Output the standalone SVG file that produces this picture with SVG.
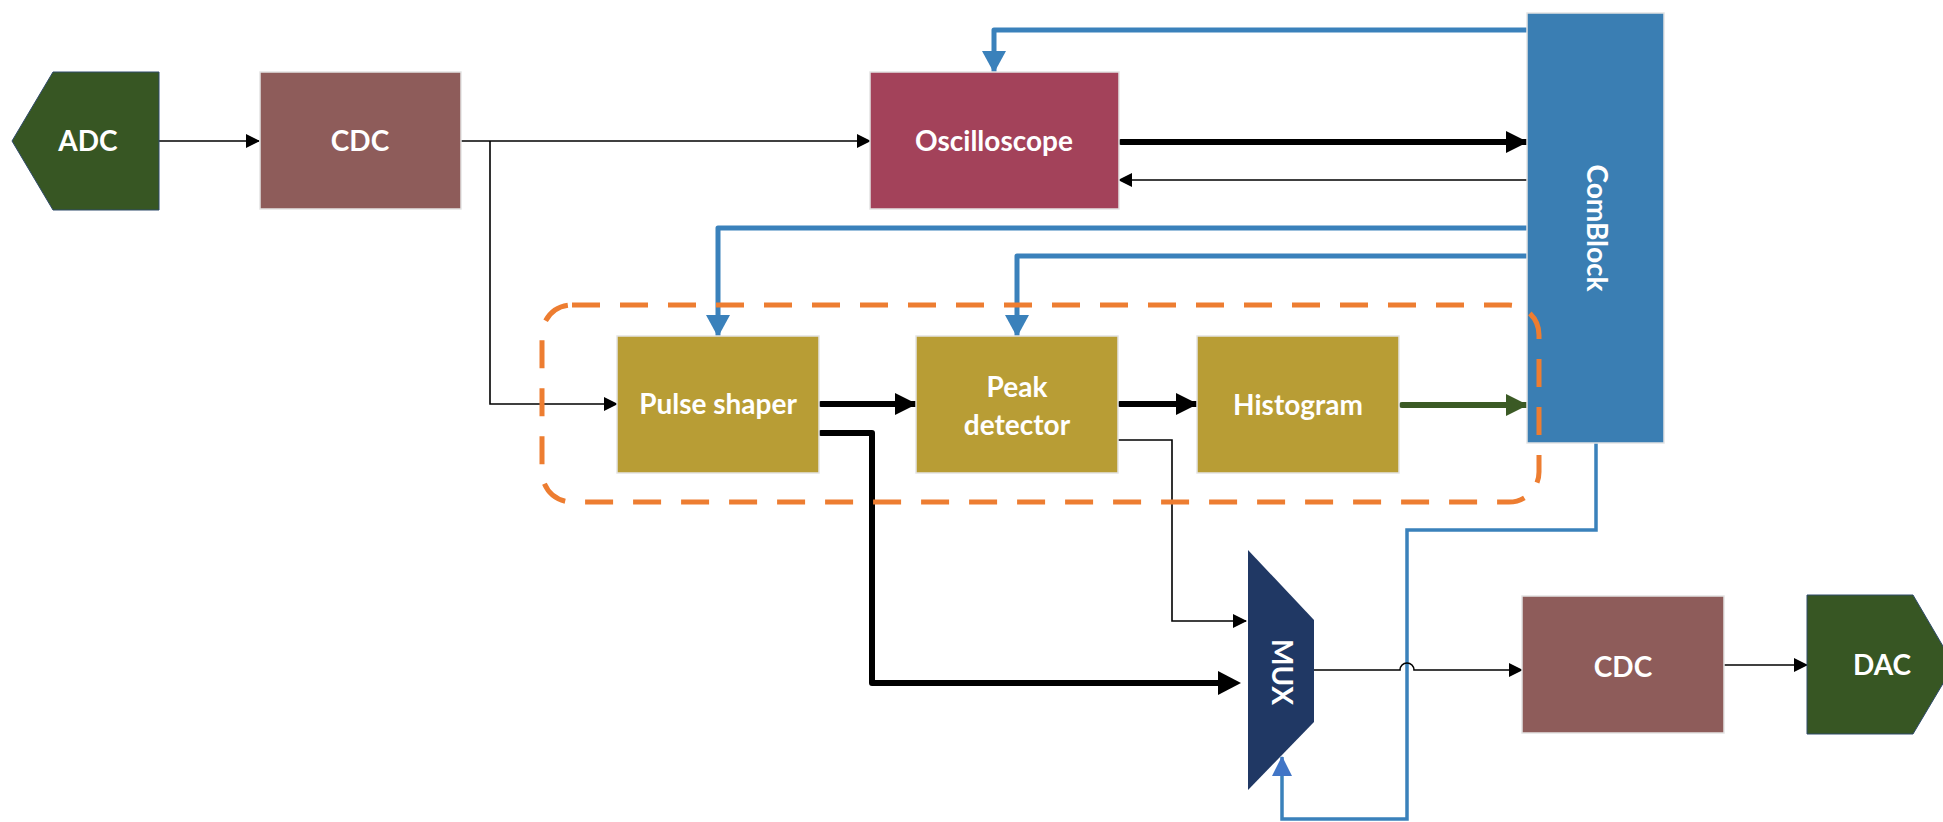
<svg xmlns="http://www.w3.org/2000/svg" width="1943" height="822" viewBox="0 0 1943 822">
<style>
  .lbl { font-family: Lato, "Open Sans", "Liberation Sans", sans-serif; font-weight: bold; font-size: 28px; fill: #ffffff; text-anchor: middle; }
  .box { stroke: #e4e4e4; stroke-width: 1.5; }
  .thin { fill: none; stroke: #000; stroke-width: 1.6; }
  .thick { fill: none; stroke: #000; stroke-width: 6; stroke-linecap: round; stroke-linejoin: round; }
  .blue { fill: none; stroke: #3a81bb; stroke-width: 5; stroke-linejoin: round; }
  .blue2 { fill: none; stroke: #3a81bb; stroke-width: 3.5; }
  .green { fill: none; stroke: #3b5a25; stroke-width: 6; stroke-linecap: round; }
</style>
<defs>
  <marker id="aThin" markerUnits="userSpaceOnUse" markerWidth="14" markerHeight="14" refX="13" refY="7" orient="auto">
    <path d="M0,0 L14,7 L0,14 z" fill="#000"/>
  </marker>
  <marker id="aThick" markerUnits="userSpaceOnUse" markerWidth="22" markerHeight="22" refX="21" refY="11" orient="auto">
    <path d="M0,0 L22,11 L0,22 z" fill="#000"/>
  </marker>
  <marker id="aGreen" markerUnits="userSpaceOnUse" markerWidth="22" markerHeight="22" refX="21" refY="11" orient="auto">
    <path d="M0,0 L22,11 L0,22 z" fill="#3b5a25"/>
  </marker>
  <marker id="aBlue" markerUnits="userSpaceOnUse" markerWidth="22" markerHeight="24" refX="21" refY="12" orient="auto">
    <path d="M0,0 L22,12 L0,24 z" fill="#3a81bb"/>
  </marker>
  <marker id="aBlue2" markerUnits="userSpaceOnUse" markerWidth="20" markerHeight="20" refX="19" refY="10" orient="auto">
    <path d="M0,0 L20,10 L0,20 z" fill="#4175c6"/>
  </marker>
</defs>
<rect width="1943" height="822" fill="#ffffff"/>

<g id="connectors">
  <path class="thin" d="M159,141 H259" marker-end="url(#aThin)"/>
  <path class="thin" d="M461,141 H870" marker-end="url(#aThin)"/>
  <path class="thin" d="M490,141 V404 H617" marker-end="url(#aThin)"/>
  <path class="thick" d="M1121,142 H1527" marker-end="url(#aThick)"/>
  <path class="thin" d="M1527,180 H1119" marker-end="url(#aThin)"/>
  <path class="blue" d="M1527,30 H994 V72" marker-end="url(#aBlue)"/>
  <path class="blue" d="M1527,228 H718 V336" marker-end="url(#aBlue)"/>
  <path class="blue" d="M1527,256 H1017 V336" marker-end="url(#aBlue)"/>
  <path class="thick" d="M821,404 H916" marker-end="url(#aThick)"/>
  <path class="thick" d="M1120,404 H1197" marker-end="url(#aThick)"/>
  <path class="green" d="M1402,405 H1527" marker-end="url(#aGreen)"/>
  <path class="thick" d="M821,433 H872 V683 H1222"/>
  <polygon points="1218,671 1241,683 1218,695" fill="#000"/>
  <path class="thin" d="M1118,440 H1172 V621 H1246" marker-end="url(#aThin)"/>
  <path class="blue2" d="M1596,443 V530 H1407 V819 H1282 V757" marker-end="url(#aBlue2)"/>
  <path class="thin" d="M1314,670 H1400 A7,7 0 0 1 1414,670 H1522" marker-end="url(#aThin)"/>
  <path class="thin" d="M1724,665 H1807" marker-end="url(#aThin)"/>
</g>

<g id="adc">
  <polygon points="12,141 53,72 159,72 159,210 53,210" fill="#375623" stroke="#2f4a6a" stroke-width="1"/>
  <text class="lbl" x="88" y="151">ADC</text>
</g>
<g id="cdc1">
  <rect class="box" x="260" y="72" width="201" height="137" fill="#8e5c5a"/>
  <text class="lbl" x="360" y="151">CDC</text>
</g>
<g id="oscilloscope">
  <rect class="box" x="870" y="72" width="249" height="137" fill="#a3425a"/>
  <text class="lbl" x="994" y="151">Oscilloscope</text>
</g>
<g id="comblock">
  <rect class="box" x="1527" y="13" width="137" height="430" fill="#3a7eb3"/>
  <text class="lbl" transform="translate(1597,228) rotate(90)" x="0" y="10">ComBlock</text>
</g>
<g id="pulse-shaper">
  <rect class="box" x="617" y="336" width="202" height="137" fill="#b89d35"/>
  <text class="lbl" x="718" y="414">Pulse shaper</text>
</g>
<g id="peak-detector">
  <rect class="box" x="916" y="336" width="202" height="137" fill="#b89d35"/>
  <text class="lbl" x="1017" y="397">Peak</text>
  <text class="lbl" x="1017" y="435">detector</text>
</g>
<g id="histogram">
  <rect class="box" x="1197" y="336" width="202" height="137" fill="#b89d35"/>
  <text class="lbl" x="1298" y="415">Histogram</text>
</g>
<g id="mux">
  <polygon points="1248,550 1314,620 1314,722 1248,790" fill="#203864"/>
  <text class="lbl" transform="translate(1282,672) rotate(90)" x="0" y="10">MUX</text>
</g>
<g id="cdc2">
  <rect class="box" x="1522" y="596" width="202" height="137" fill="#8e5c5a"/>
  <text class="lbl" x="1623" y="677">CDC</text>
</g>
<g id="dac">
  <polygon points="1807,595 1913,595 1954,665 1913,734 1807,734" fill="#375623" stroke="#2f4a6a" stroke-width="1"/>
  <text class="lbl" x="1882" y="675">DAC</text>
</g>

<g id="group-outline">
  <rect x="542" y="305" width="997" height="197" rx="30" ry="30" fill="none" stroke="#ed7d31" stroke-width="5" stroke-dasharray="28 20"/>
</g>
</svg>
